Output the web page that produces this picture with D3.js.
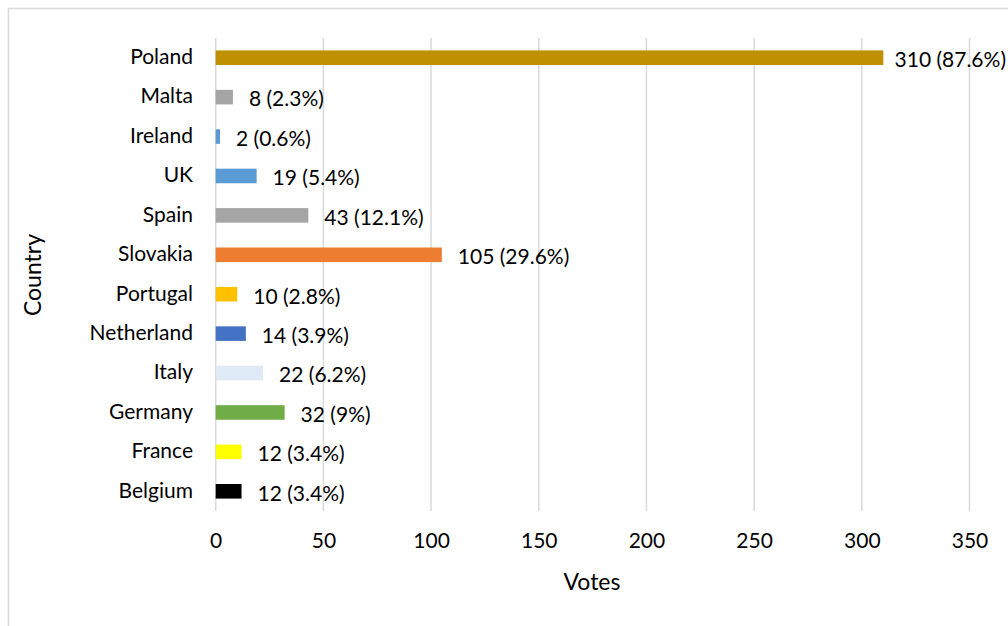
<!DOCTYPE html>
<html><head><meta charset="utf-8">
<script src="https://cdn.jsdelivr.net/npm/d3@7"></script>
<style>body{margin:0;background:#fff;} svg{display:block;font-family:Lato,"Open Sans",sans-serif;}</style>
</head><body>
<svg id="c" width="1008" height="626"></svg>
<script>
const countries = ["Poland","Malta","Ireland","UK","Spain","Slovakia","Portugal","Netherland","Italy","Germany","France","Belgium"];
const votes = [310,8,2,19,43,105,10,14,22,32,12,12];
const percents = ["87.6%","2.3%","0.6%","5.4%","12.1%","29.6%","2.8%","3.9%","6.2%","9%","3.4%","3.4%"];
const colors = ["#BF9000","#A5A5A5","#5B9BD5","#5B9BD5","#A5A5A5","#ED7D31","#FFC000","#4472C4","#DEEBF7","#70AD47","#FFFF00","#000000"];
const xTicks = [0,50,100,150,200,250,300,350];

const svg = d3.select("#c");
// outer chart border
svg.append("rect").attr("x",8.5).attr("y",8.5).attr("width",1100).attr("height",700)
  .attr("fill","none").attr("stroke","#D9D9D9").attr("stroke-width",1.5);

const x = d3.scaleLinear().domain([0,350]).range([215.7,969.5]);
const y = d3.scaleBand().domain(countries).range([38,511]).paddingInner(0.63).paddingOuter(0.315);

// gridlines
svg.append("g").selectAll("line").data(xTicks).join("line")
  .attr("x1",d=>x(d)).attr("x2",d=>x(d)).attr("y1",38).attr("y2",511)
  .attr("stroke","#D9D9D9").attr("stroke-width",1.5);

// bars
svg.append("g").selectAll("rect").data(countries).join("rect")
  .attr("x",x(0)).attr("y",d=>y(d)).attr("height",y.bandwidth())
  .attr("width",(d,i)=>x(votes[i])-x(0)).attr("fill",(d,i)=>colors[i]);

// x axis labels
const xAxis = d3.axisBottom(x).tickValues(xTicks).tickSize(0).tickPadding(0);
const gx = svg.append("g").attr("transform","translate(0,533)").call(xAxis);
gx.select(".domain").remove();
gx.selectAll("text").attr("font-size",21).attr("fill","#000").attr("font-family","Lato,'Open Sans',sans-serif").attr("dy","0.7em");

// y axis labels
const yAxis = d3.axisLeft(y).tickSize(0).tickPadding(0);
const gy = svg.append("g").attr("transform","translate(193,0)").call(yAxis);
gy.select(".domain").remove();
gy.selectAll("text").attr("font-size",21).attr("fill","#000").attr("font-family","Lato,'Open Sans',sans-serif").attr("dy","0.3em");

// data labels
svg.append("g").selectAll("text").data(countries).join("text")
  .attr("font-size",21).attr("fill","#000")
  .attr("y",d=>y(d)+y.bandwidth()/2+2)
  .attr("dy","0.35em")
  .text((d,i)=>votes[i]+" ("+percents[i]+")")
  .each(function(d,i){
    const t=d3.select(this);
    const w=this.getComputedTextLength();
    let px=x(votes[i])+16;
    if(px+w>1006) px=Math.max(x(votes[i])+9, 1006-w);
    t.attr("x",px);
  });

// axis titles
svg.append("text").attr("x",592).attr("y",590).attr("text-anchor","middle")
  .attr("font-size",23).attr("fill","#000").text("Votes");
svg.append("text").attr("transform","translate(41,275) rotate(-90)").attr("text-anchor","middle")
  .attr("font-size",23).attr("fill","#000").text("Country");
</script>
</body></html>
